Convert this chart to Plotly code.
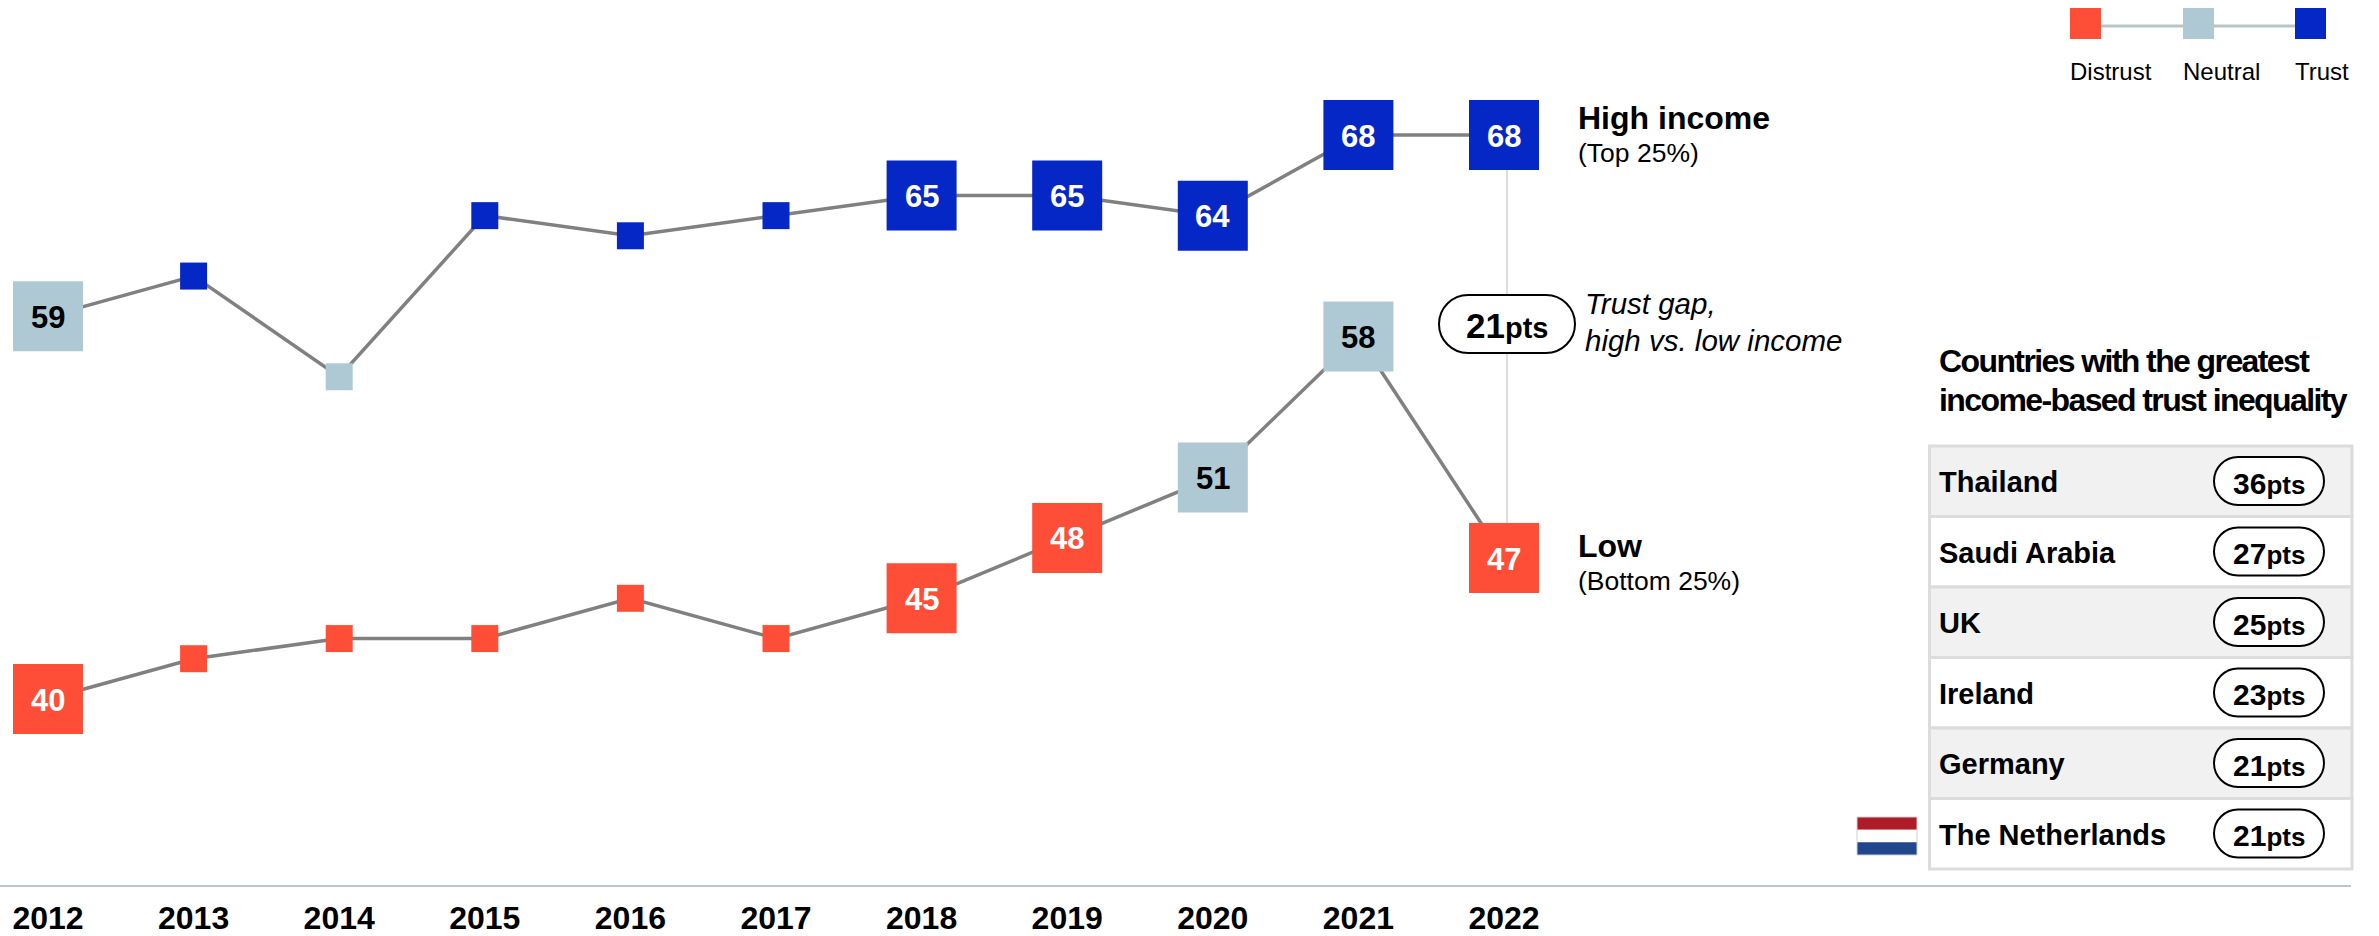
import plotly.graph_objects as go

# data
years = [2012, 2013, 2014, 2015, 2016, 2017, 2018, 2019, 2020, 2021, 2022]
high_income = [59, 61, 56, 64, 63, 64, 65, 65, 64, 68, 68]
low_income = [40, 42, 43, 43, 45, 43, 45, 48, 51, 58, 47]
high_labelled = [2012, 2018, 2019, 2020, 2021, 2022]
low_labelled = [2012, 2018, 2019, 2020, 2021, 2022]
countries = ["Thailand", "Saudi Arabia", "UK", "Ireland", "Germany", "The Netherlands"]
gaps = [36, 27, 25, 23, 21, 21]
legend_names = ["Distrust", "Neutral", "Trust"]

W, H = 2379, 936
FONT = "Liberation Sans, Arial, sans-serif"
RED, NEUTRAL, BLUE = "#ff4e37", "#aec9d3", "#0527c6"


def px(x):
    return x / W


def py(y):
    return 1 - y / H


def colour(v):
    if v >= 60:
        return BLUE
    if v >= 50:
        return NEUTRAL
    return RED


def pill(x0, y0, x1, y1):
    r = (y1 - y0) / 2
    k = r * 0.5523
    return ("M %f,%f L %f,%f C %f,%f %f,%f %f,%f C %f,%f %f,%f %f,%f "
            "L %f,%f C %f,%f %f,%f %f,%f C %f,%f %f,%f %f,%f Z" % (
                px(x0 + r), py(y0), px(x1 - r), py(y0),
                px(x1 - r + k), py(y0), px(x1), py(y0 + r - k), px(x1), py(y0 + r),
                px(x1), py(y0 + r + k), px(x1 - r + k), py(y1), px(x1 - r), py(y1),
                px(x0 + r), py(y1),
                px(x0 + r - k), py(y1), px(x0), py(y0 + r + k), px(x0), py(y0 + r),
                px(x0), py(y0 + r - k), px(x0 + r - k), py(y0), px(x0 + r), py(y0)))


fig = go.Figure()
shapes = []
annotations = []

for values, labelled in [(high_income, high_labelled), (low_income, low_labelled)]:
    fig.add_trace(go.Scatter(
        x=years, y=values, mode="lines+markers",
        line=dict(color="#808080", width=3.5),
        marker=dict(symbol="square", opacity=1,
                    size=[70 if yr in labelled else 27 for yr in years],
                    color=[colour(v) for v in values],
                    line=dict(width=0)),
        hoverinfo="x+y", showlegend=False, cliponaxis=False,
    ))
    # value labels sit on the big squares
    for yr, v in zip(years, values):
        if yr in labelled:
            annotations.append(dict(
                x=yr, y=v, xref="x", yref="y", text=str(v), showarrow=False,
                xanchor="center", yanchor="middle", borderpad=0, borderwidth=0, yshift=-1,
                font=dict(family=FONT, size=31, weight="bold",
                          color="black" if colour(v) == NEUTRAL else "white"),
            ))


def text(x, y, s, size, anchor="left", bold=False, italic=False, color="black"):
    annotations.append(dict(
        x=px(x), y=py(y), xref="paper", yref="paper", text=s, showarrow=False,
        xanchor=anchor, yanchor="middle", align=anchor, borderpad=0, borderwidth=0,
        font=dict(family=FONT, size=size, color=color,
                  weight="bold" if bold else "normal",
                  style="italic" if italic else "normal"),
    ))


def gap_label(x, y, gap, size, pts_size):
    text(x, y, '%d<span style="font-size:%dpx">pts</span>' % (gap, pts_size),
         size, anchor="center", bold=True)


# trust gap connector and pill
shapes.append(dict(type="line", xref="paper", yref="paper", layer="below",
                   x0=px(1507), x1=px(1507), y0=py(135), y1=py(558),
                   line=dict(color="#dddddd", width=2)))
shapes.append(dict(type="path", xref="paper", yref="paper", path=pill(1439, 295, 1575, 353),
                   fillcolor="white", line=dict(color="black", width=2)))
gap_label(1507, 325, high_income[-1] - low_income[-1], 35, 29)
text(1585, 304, "Trust gap,", 29.5, italic=True)
text(1585, 340, "high vs. low income", 29.5, italic=True)

# line labels
text(1578, 118, "High income", 32, bold=True)
text(1578, 153, "(Top 25%)", 26.5)
text(1578, 546, "Low", 32, bold=True)
text(1578, 581, "(Bottom 25%)", 26.5)

# colour key
shapes.append(dict(type="line", xref="paper", yref="paper", x0=px(2085), x1=px(2310),
                   y0=py(26), y1=py(26), line=dict(color="#b9c4c4", width=3)))
for name, x0, c in zip(legend_names, [2070, 2183, 2295], [RED, NEUTRAL, BLUE]):
    shapes.append(dict(type="rect", xref="paper", yref="paper", x0=px(x0), x1=px(x0 + 31),
                       y0=py(8), y1=py(39), fillcolor=c, line=dict(width=0)))
    text(x0, 72, name, 24)

# side table
text(1939, 361, '<span style="letter-spacing:-1.6px">Countries with the greatest</span>', 32, bold=True)
text(1939, 400, '<span style="letter-spacing:-1.6px">income-based trust inequality</span>', 32, bold=True)

top, row_h = 446, 70.5
for i, (name, gap) in enumerate(zip(countries, gaps)):
    y0 = top + i * row_h
    shapes.append(dict(type="rect", xref="paper", yref="paper", x0=px(1929.5), x1=px(2352),
                       y0=py(y0), y1=py(y0 + row_h),
                       fillcolor="#f1f1f1" if i % 2 == 0 else "white",
                       line=dict(color="#dcdcdc", width=3)))
    text(1939, y0 + row_h / 2 + 1, name, 29, bold=True)
    shapes.append(dict(type="path", xref="paper", yref="paper",
                       path=pill(2214, y0 + 11, 2324, y0 + 59),
                       fillcolor="white", line=dict(color="black", width=2)))
    gap_label(2269, y0 + row_h / 2 + 2, gap, 30, 26)

# Netherlands flag
for y0, c in zip([817, 829.67, 842.33], ["#ae1c28", "white", "#21468b"]):
    shapes.append(dict(type="rect", xref="paper", yref="paper", x0=px(1857), x1=px(1917),
                       y0=py(y0), y1=py(y0 + 12.67), fillcolor=c, line=dict(width=0)))
shapes.append(dict(type="rect", xref="paper", yref="paper", x0=px(1857), x1=px(1917),
                   y0=py(817), y1=py(855), line=dict(color="#ccd0d4", width=1)))

fig.update_layout(
    width=W, height=H, autosize=False,
    margin=dict(l=0, r=0, t=0, b=0, pad=0),
    paper_bgcolor="white", plot_bgcolor="white",
    shapes=shapes, annotations=annotations,
    xaxis=dict(domain=[0, 2351 / W], range=[2012 - 48 / 145.6, 2012 + (2351 - 48) / 145.6],
               tickmode="array", tickvals=years, ticktext=[str(y) for y in years],
               showgrid=False, zeroline=False, ticks="", showline=True, automargin=False,
               linecolor="#bcc6c6", linewidth=2, ticklabelstandoff=4,
               tickfont=dict(family=FONT, size=32, color="black", weight="bold")),
    yaxis=dict(domain=[1 - 885 / H, 1], range=[40 - (885 - 699) / 20.14, 40 + 699 / 20.14],
               visible=False, showgrid=False, zeroline=False, automargin=False),
)

# the page's default body margin would push the chart off its place
fig.write_html("out.html", config=dict(displayModeBar=False),
               post_script="document.body.style.margin='0';")
